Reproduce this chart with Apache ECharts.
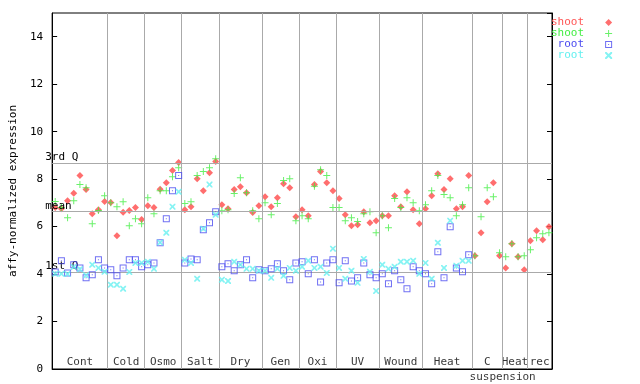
<!DOCTYPE html>
<html><head><meta charset="utf-8">
<script src="https://cdn.jsdelivr.net/npm/echarts@6/dist/echarts.min.js"></script>
<style>html,body{margin:0;padding:0;background:#fff}#c{width:640px;height:384px}</style>
</head><body><div id="c"></div>
<script>
// ---- data ----
const groupNames = ['Cont','Cold','Osmo','Salt','Dry','Gen','Oxi','UV','Wound','Heat','C','Heat','rec'];
const groupSizes = [9,6,6,6,7,6,6,7,7,8,5,4,4];
const subLabelText = 'suspension';
const subLabelAt = 73.5;
const quartileNames = ['3rd Q','mean','1st Q'];
const quartileValues = [8.68, 6.64, 4.09];
const legendLabels = {shoot_a:'shoot', shoot_b:'shoot', root_a:' root', root_b:' root'};

const shootA = [6.80,6.75,7.09,7.40,8.15,7.56,6.54,6.71,7.06,
  7.02,5.61,6.60,6.68,6.80,6.30,
  6.88,6.80,7.57,7.85,8.36,8.70,
  6.71,6.84,8.02,7.51,8.27,8.74,
  6.92,6.75,7.56,7.68,7.43,6.59,6.88,
  7.26,6.84,7.22,7.81,7.64,6.42,
  6.71,6.46,7.77,8.32,7.85,7.51,
  7.18,6.50,6.04,6.08,6.63,6.16,6.25,
  6.46,6.46,7.30,6.84,7.47,6.71,6.12,
  6.75,7.30,8.23,7.56,8.02,6.75,6.84,8.15,
  4.77,5.74,7.05,7.85,4.77,
  4.26,5.28,4.73,4.18,
  5.40,5.83,5.45,5.99];
const shootB = [7.06,6.80,6.37,7.09,7.77,7.64,6.12,6.68,7.30,
  7.01,6.84,7.05,6.04,6.33,6.12,
  7.22,6.54,7.51,7.51,8.10,8.48,
  6.97,7.05,8.15,8.32,8.48,8.86,
  6.67,6.71,7.39,8.06,7.43,6.67,6.33,
  7.01,6.50,6.97,7.94,8.02,6.25,
  6.46,6.33,7.70,8.40,8.15,6.80,
  6.80,6.25,6.37,6.21,6.54,6.63,5.74,
  6.46,5.95,7.18,6.80,7.22,7.01,6.67,
  6.92,7.51,8.15,7.35,7.22,6.46,6.92,7.64,
  4.77,6.42,7.64,7.26,4.90,
  4.73,5.28,4.73,4.77,
  5.02,5.53,5.70,5.74];
const rootA = [4.09,4.56,4.05,4.39,4.26,3.84,3.97,4.60,4.26,
  4.18,3.93,4.26,4.60,4.60,4.31,
  4.39,4.47,5.32,6.33,7.51,8.15,
  4.47,4.64,4.60,5.87,6.16,6.63,
  4.31,4.43,4.14,4.39,4.60,3.84,4.18,
  4.14,4.22,4.43,4.14,3.76,4.47,
  4.52,4.01,4.60,3.67,4.47,4.60,
  3.63,4.56,3.71,3.84,4.47,3.97,3.84,
  4.01,3.59,4.14,3.76,3.38,4.31,4.14,
  4.01,3.59,4.94,3.84,5.99,4.26,4.10,4.81];
const rootB = [4.01,4.01,4.00,4.30,4.20,3.95,4.39,4.26,4.10,
  3.55,3.55,3.38,4.09,4.47,4.47,
  4.52,4.22,5.33,5.74,6.84,7.47,
  4.60,4.47,3.80,5.91,7.77,6.50,
  3.76,3.71,4.52,4.39,4.22,4.22,4.14,
  4.14,3.84,4.22,3.93,4.26,4.14,
  4.31,4.56,4.26,4.31,4.05,5.07,
  4.26,3.80,4.14,3.63,4.64,4.10,3.29,
  4.39,4.22,4.31,4.52,4.52,4.56,4.01,
  4.47,3.80,5.32,4.26,6.25,4.35,4.56,4.56];

// ---- styling ----
const MONO = 'DejaVu Sans Mono';
const C_RED = '#ff5555', C_GREEN = '#44ee44', C_BLUE = '#4b4bf0', C_CYAN = '#66f0f0';
const SYM_PLUS = 'path://M3,0H4V3H7V4H4V7H3V4H0V3H3Z';
const SYM_SQ = 'path://M0,0H7V7H0Z M1,6H6V1H1Z M3,3H4V4H3Z';
const SYM_X = 'path://M0,0H1.4L3.5,2.1L5.6,0H7V1.4L4.9,3.5L7,5.6V7H5.6L3.5,4.9L1.4,7H0V5.6L2.1,3.5L0,1.4Z';

const total = groupSizes.reduce((a,b)=>a+b,0);
const bounds = []; const centers = [];
let acc = 0;
groupSizes.forEach((s,i)=>{ centers.push([acc + s/2 + 0.5, 0, groupNames[i]]); acc += s; if (i < groupSizes.length-1) bounds.push(acc + 0.5); });

const toPts = arr => arr.map((v,i)=>[i+1, v]);

const chart = echarts.init(document.getElementById('c'), null, {renderer:'canvas'});
chart.setOption({
  animation:false,
  backgroundColor:'#fff',
  grid:{left:44, top:13, width:508, height:356, show:true, borderColor:'#000', borderWidth:1, backgroundColor:'transparent'},
  legend:{
    orient:'vertical', left:551, top:17, padding:0, itemGap:0, itemWidth:7, itemHeight:7, align:'right',
    selectedMode:false,
    formatter: n => legendLabels[n],
    textStyle:{fontFamily:MONO, fontSize:11, lineHeight:11, padding:[0,16,0,0]},
    data:[
      {name:'shoot_a', icon:'diamond', itemStyle:{color:C_RED}, textStyle:{color:C_RED}},
      {name:'shoot_b', icon:SYM_PLUS, itemStyle:{color:C_GREEN}, textStyle:{color:C_GREEN}},
      {name:'root_a', icon:SYM_SQ, itemStyle:{color:C_BLUE}, textStyle:{color:C_BLUE}},
      {name:'root_b', icon:SYM_X, itemStyle:{color:C_CYAN}, textStyle:{color:C_CYAN}}
    ]
  },
  xAxis:{type:'value', min:0.5, max:total+0.5, axisLine:{show:true, lineStyle:{color:'#000'}}, axisTick:{show:false}, axisLabel:{show:false}, splitLine:{show:false}},
  yAxis:[
    {type:'value', min:0, max:15, interval:2,
     name:'affy-normalized expression', nameLocation:'middle', nameGap:32, nameRotate:90,
     nameTextStyle:{fontFamily:MONO, fontSize:11, color:'#000'},
     axisLine:{show:true, lineStyle:{color:'#000'}},
     axisTick:{show:true, inside:true, length:5, lineStyle:{color:'#000'}},
     axisLabel:{fontFamily:MONO, fontSize:11, color:'#000', margin:9, showMaxLabel:false},
     splitLine:{show:false}},
    {type:'value', min:0, max:15, interval:2, position:'right',
     axisLine:{show:true, lineStyle:{color:'#000'}},
     axisTick:{show:true, inside:true, length:5, lineStyle:{color:'#000'}},
     axisLabel:{show:false}, splitLine:{show:false}}
  ],
  series:[
    {name:'guides', type:'scatter', data:centers, symbolSize:0, silent:true, z:1,
     label:{show:true, position:'top', distance:1, formatter:p=>p.data[2], fontFamily:MONO, fontSize:11, color:'#000'},
     markLine:{silent:true, symbol:['none','none'], animation:false,
       lineStyle:{color:'#aaaaaa', width:1, type:'solid'},
       label:{show:false},
       data: bounds.map(b=>({xAxis:b})).concat(quartileValues.map((v,i)=>({yAxis:v, name:quartileNames[i],
         label:{show:true, position:'insideStartTop', formatter:'{b}', distance:[-7,0], fontFamily:MONO, fontSize:11, color:'#000'}})))
     }},
    {name:'sub', type:'scatter', data:[[subLabelAt, 0, subLabelText]], symbolSize:0, silent:true,
     label:{show:true, position:'bottom', distance:3, formatter:p=>p.data[2], fontFamily:MONO, fontSize:11, color:'#000'}},
    {name:'shoot_a', type:'scatter', data:toPts(shootA), symbol:'diamond', symbolSize:7, itemStyle:{color:C_RED, opacity:0.85}, z:3},
    {name:'shoot_b', type:'scatter', data:toPts(shootB), symbol:SYM_PLUS, symbolSize:7, itemStyle:{color:C_GREEN}, z:4},
    {name:'root_a', type:'scatter', data:toPts(rootA), symbol:SYM_SQ, symbolSize:7, itemStyle:{color:C_BLUE}, z:5},
    {name:'root_b', type:'scatter', data:toPts(rootB), symbol:SYM_X, symbolSize:6, itemStyle:{color:C_CYAN}, z:6}
  ]
});
</script></body></html>
